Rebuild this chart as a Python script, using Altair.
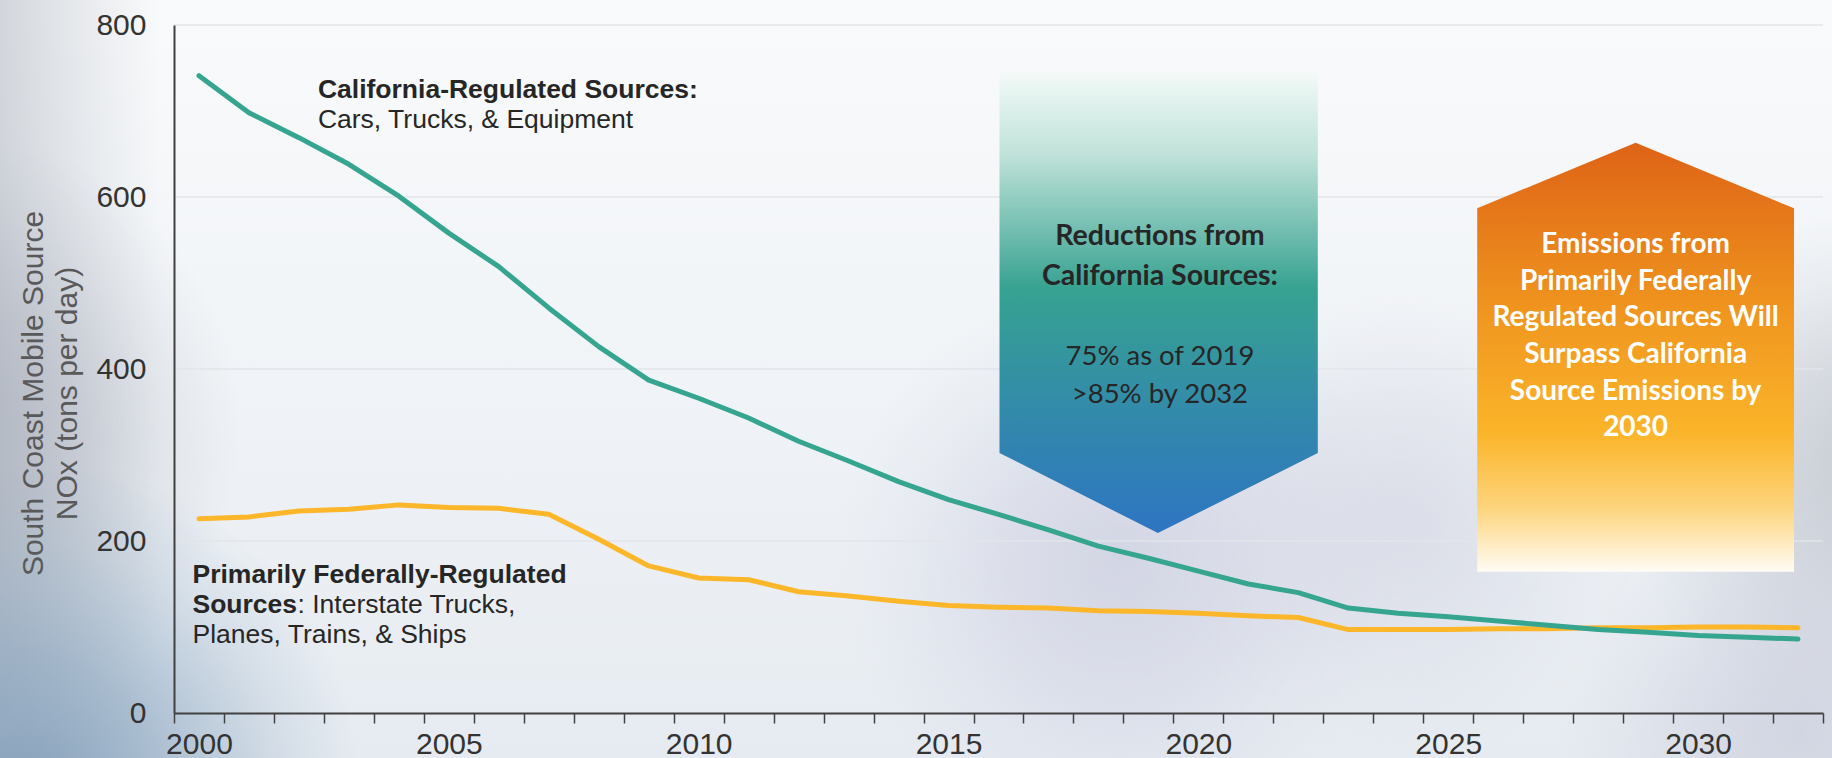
import altair as alt
import pandas as pd

# ---------------- data ----------------
years = list(range(2000, 2033))
california = [741, 698, 669, 638, 601, 558, 519, 471, 426, 387, 366, 343, 316, 293, 269,
              248, 231, 213, 194, 180, 165, 150, 140, 122, 116, 112, 107, 102, 97, 94,
              90, 88, 86]
federal = [226, 228, 235, 237, 242, 239, 238, 231, 202, 171, 157, 155, 141, 136, 130,
           125, 123, 122, 119, 118, 116, 113, 111, 97, 97, 97, 98, 98, 99, 99,
           100, 100, 99]
y_ticks = [0, 200, 400, 600, 800]
x_label_years = [2000, 2005, 2010, 2015, 2020, 2025, 2030]
y_title = ["South Coast Mobile Source", "NOx (tons per day)"]

# annotation shapes (data units: year, tons/day)
teal_arrow_x = [2016.02, 2019.19, 2022.39]
teal_arrow_top = [745.7, 745.7, 745.7]
teal_arrow_bottom = [302.3, 209.3, 302.3]
orange_arrow_x = [2025.58, 2028.75, 2031.92]
orange_arrow_top = [586.9, 663.1, 586.9]
orange_arrow_bottom = [164.3, 164.3, 164.3]

# ---------------- layout ----------------
X0, Y0 = 174, 25
W, H = 1649, 688
YEAR_PX = W / 33.0

FONT_AX = "Liberation Sans"
FONT_BOX = "Lato"

xscale = alt.Scale(domain=[1999.5, 2032.5], nice=False, zero=False)
yscale = alt.Scale(domain=[0, 800], nice=False, zero=True)

x_axis = alt.Axis(
    values=[1999.5 + i for i in range(34)],
    labelExpr="indexof([" + ",".join(str(y) for y in x_label_years) + "], datum.value + 0.5) >= 0 ? format(datum.value + 0.5, 'd') : ''",
    labelOffset=YEAR_PX / 2, grid=False, tickSize=10, tickWidth=1.5, tickColor="#404040",
    domainColor="#404040", domainWidth=2, labelFont=FONT_AX, labelFontSize=30,
    labelColor="#333333", labelPadding=6, labelOverlap=False, labelFlush=False,
    labelBound=False, title="", zindex=1)

y_axis = alt.Axis(
    values=y_ticks, grid=False, ticks=False, tickSize=0, domainColor="#404040", domainWidth=2,
    labelFont=FONT_AX, labelFontSize=30, labelColor="#333333", labelPadding=28,
    title=y_title, titleFont=FONT_AX, titleFontSize=30, titleFontWeight="normal",
    titleColor="#595959", titleAngle=270, titleAlign="center", titleBaseline="middle",
    titleX=-141, titleY=368, titleLineHeight=34, zindex=1)


def X(field="year"):
    return alt.X(f"{field}:Q", scale=xscale, axis=x_axis)


def Y(field="value"):
    return alt.Y(f"{field}:Q", scale=yscale, axis=y_axis)


def lin(stops, x1=0, y1=0, x2=0, y2=1):
    return {"gradient": "linear", "x1": x1, "y1": y1, "x2": x2, "y2": y2,
            "stops": [{"offset": o, "color": c} for o, c in stops]}


one = pd.DataFrame({"k": [0]})


def bg(x0, y0, x1, y1, grad):
    return alt.Chart(one).mark_rect(fill=grad, strokeWidth=0).encode(
        x=alt.value(x0 - X0), x2=alt.value(x1 - X0),
        y=alt.value(y0 - Y0), y2=alt.value(y1 - Y0))


def blob(cx, cy, r, rgb, a):
    c = ",".join(str(v) for v in rgb)
    grad = {"gradient": "radial", "x1": 0.5, "y1": 0.5, "r1": 0, "x2": 0.5, "y2": 0.5, "r2": 0.5,
            "stops": [{"offset": 0, "color": f"rgba({c},{a})"},
                      {"offset": 0.4, "color": f"rgba({c},{a * 0.65:.3f})"},
                      {"offset": 0.75, "color": f"rgba({c},{a * 0.22:.3f})"},
                      {"offset": 1, "color": f"rgba({c},0)"}]}
    return bg(cx - r, cy - r, cx + r, cy + r, grad)


layers = []
# --- soft photographic background ---
layers.append(bg(0, 0, 1832, 758, lin([(0, "#f9fafb"), (0.4, "#f2f5f8"), (1, "#e6ebf1")])))
layers.append(bg(0, 0, 160, 758, lin([(0, "rgba(178,184,194,0.55)"), (1, "rgba(190,196,205,0)")], 0, 0, 1, 0)))
layers.append(blob(-60, 430, 300, (165, 171, 183), 0.75))
layers.append(blob(30, 790, 330, (118, 150, 180), 0.8))
layers.append(blob(1120, 560, 280, (200, 202, 221), 0.7))
layers.append(blob(1400, 520, 240, (205, 207, 222), 0.55))
layers.append(blob(1880, 470, 260, (185, 190, 199), 0.75))
layers.append(blob(1800, 730, 240, (198, 201, 217), 0.65))

# --- gridlines ---
grid_df = pd.DataFrame({"value": y_ticks[1:]})
layers.append(alt.Chart(grid_df).mark_rule(color="#e2e4e8", strokeWidth=1.5).encode(y=Y()))

# --- arrow shapes ---
teal_df = pd.DataFrame({"year": teal_arrow_x, "value": teal_arrow_top, "value2": teal_arrow_bottom})
layers.append(alt.Chart(teal_df).mark_area(
    fill=lin([(0, "#f4faf8"), (0.18, "#bfe2d9"), (0.47, "#37a291"), (0.75, "#3289ab"), (1, "#2e75c2")]),
    interpolate="linear", strokeWidth=0).encode(x=X(), y=Y(), y2="value2:Q"))

orange_df = pd.DataFrame({"year": orange_arrow_x, "value": orange_arrow_top, "value2": orange_arrow_bottom})
layers.append(alt.Chart(orange_df).mark_area(
    fill=lin([(0, "#de6316"), (0.4, "#f0961f"), (0.68, "#fbb52a"), (0.85, "#fdd47c"), (1, "#fffcf4")]),
    interpolate="linear", strokeWidth=0).encode(x=X(), y=Y(), y2="value2:Q"))

# --- data lines ---
cal_df = pd.DataFrame({"year": years, "value": california})
fed_df = pd.DataFrame({"year": years, "value": federal})
layers.append(alt.Chart(fed_df).mark_line(color="#fbb62a", strokeWidth=5, strokeCap="round",
                                            strokeJoin="round").encode(x=X(), y=Y()))
layers.append(alt.Chart(cal_df).mark_line(color="#36a58f", strokeWidth=5, strokeCap="round",
                                            strokeJoin="round").encode(x=X(), y=Y()))


# --- text annotations ---
def txt(rows, **kw):
    d = pd.DataFrame(rows, columns=["year", "value", "label"])
    return alt.Chart(d).mark_text(baseline="alphabetic", **kw).encode(x=X(), y=Y(), text="label:N")


layers.append(txt([(2002.38, 714.8, "California-Regulated Sources:")],
                  align="left", font=FONT_AX, fontSize=26.5, fontWeight="bold", color="#262626"))
layers.append(txt([(2002.38, 679.9, "Cars, Trucks, & Equipment")],
                  align="left", font=FONT_AX, fontSize=26.5, color="#262626"))
layers.append(txt([(1999.87, 150.8, "Primarily Federally-Regulated"), (1999.87, 115.9, "Sources")],
                  align="left", font=FONT_AX, fontSize=26.5, fontWeight="bold", color="#262626"))
layers.append(txt([(1999.87, 115.9, ": Interstate Trucks,")],
                  align="left", font=FONT_AX, fontSize=26.5, color="#262626", dx=105))
layers.append(txt([(1999.87, 81.0, "Planes, Trains, & Ships")],
                  align="left", font=FONT_AX, fontSize=26.5, color="#262626"))

layers.append(txt([(2019.23, 543.7, "Reductions from"), (2019.23, 498.0, "California Sources:")],
                  align="center", font=FONT_BOX, fontSize=28.5, fontWeight="bold", color="#262626"))
layers.append(txt([(2019.23, 405.0, "75% as of 2019"), (2019.23, 360.5, ">85% by 2032")],
                  align="center", font=FONT_BOX, fontSize=27.5, color="#262626"))

layers.append(txt([(2028.75, 534.9, "Emissions from"), (2028.75, 492.2, "Primarily Federally"),
                   (2028.75, 449.5, "Regulated Sources Will"), (2028.75, 406.9, "Surpass California"),
                   (2028.75, 364.3, "Source Emissions by"), (2028.75, 321.6, "2030")],
                  align="center", font=FONT_BOX, fontSize=28, fontWeight="bold", color="#ffffff"))

chart = alt.layer(*layers).properties(
    width=W, height=H,
    padding={"left": X0, "top": Y0, "right": 1832 - X0 - W, "bottom": 758 - Y0 - H},
    autosize=alt.AutoSizeParams(type="none"),
    background="#f3f5f8",
).configure_view(stroke="transparent")

chart.save("out.html", embed_options={"renderer": "svg", "actions": False})
